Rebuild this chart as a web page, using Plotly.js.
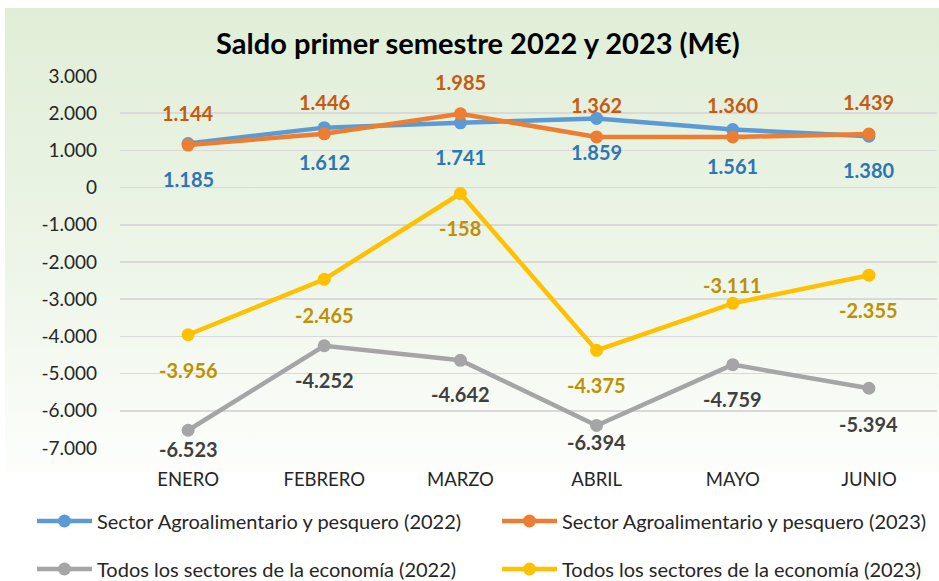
<!DOCTYPE html>
<html>
<head>
<meta charset="utf-8">
<script src="https://cdn.plot.ly/plotly-3.0.1.min.js"></script>
<style>
html,body{margin:0;padding:0;background:#fff;}
#wrap{position:relative;width:939px;height:581px;}
#bg{position:absolute;left:5px;top:8px;width:934px;height:464px;background:linear-gradient(to bottom,#e0eed7 0%,#edf5e8 55%,#fdfefc 100%);}
#chart{position:absolute;left:0;top:0;width:939px;height:581px;}
</style>
</head>
<body>
<div id="wrap"><div id="bg"></div><div id="chart"></div></div>
<script>
const months = ['ENERO','FEBRERO','MARZO','ABRIL','MAYO','JUNIO'];
const agro2022 = [1185, 1612, 1741, 1859, 1561, 1380];
const agro2023 = [1144, 1446, 1985, 1362, 1360, 1439];
const todos2022 = [-6523, -4252, -4642, -6394, -4759, -5394];
const todos2023 = [-3956, -2465, -158, -4375, -3111, -2355];
const yTicks = [3000, 2000, 1000, 0, -1000, -2000, -3000, -4000, -5000, -6000, -7000];
const names = ['Sector Agroalimentario y pesquero (2022)','Sector Agroalimentario y pesquero (2023)',
               'Todos los sectores de la economía (2022)','Todos los sectores de la economía (2023)'];

function fmt(v){
  const s = Math.abs(v).toString().replace(/\B(?=(\d{3})+(?!\d))/g,'.');
  return (v<0?'-':'') + s;
}

const FONT = 'Lato, "Open Sans", sans-serif';
const series = [
  {y: agro2022, name: names[0], line:'#5b9bd5', label:'#2e75b6', legend:'legend', shift:[-35,-34,-34,-34,-36,-34]},
  {y: agro2023, name: names[1], line:'#ed7d31', label:'#c55a11', legend:'legend2', shift:[32,32,32,32,32,32]},
  {y: todos2022, name: names[2], line:'#a5a5a5', label:'#404040', legend:'legend3', shift:[-19,-34,-34,-17,-34,-36]},
  {y: todos2023, name: names[3], line:'#ffc000', label:'#bf9000', legend:'legend4', shift:[-35,-36,-35,-35,18,-35]}
];

const traces = series.map(s => ({
  type:'scatter', mode:'lines+markers', x: months, y: s.y, name: s.name, legend: s.legend,
  line:{color:s.line, width:4.5}, marker:{color:s.line, size:13}, cliponaxis:false
}));

const annotations = [];
series.forEach(s => {
  s.y.forEach((v,i) => {
    annotations.push({x: months[i], y: v, xref:'x', yref:'y', text: fmt(v), showarrow:false,
      yshift: s.shift[i], font:{family:FONT, size:20, color:s.label, weight:'bold'}});
  });
});

function leg(x, yPix){
  return {orientation:'h', xref:'container', yref:'container', x:x/939, y:1-yPix/581, xanchor:'left', yanchor:'middle',
    font:{family:FONT, size:20, color:'#262626'}, bgcolor:'rgba(0,0,0,0)', itemwidth:55, borderwidth:0};
}

const layout = {
  width:939, height:581,
  paper_bgcolor:'rgba(0,0,0,0)', plot_bgcolor:'rgba(0,0,0,0)',
  margin:{l:120, r:2, t:76, b:133},
  title:{text:'<b>Saldo primer semestre 2022 y 2023 (M€)</b>', xref:'container', yref:'container', x:0.509, y:1-44/581,
    xanchor:'center', yanchor:'middle', font:{family:FONT, size:29, color:'#000'}},
  showlegend:true,
  xaxis:{type:'category', range:[-0.5,5.5], showgrid:false, zeroline:false, showline:false, ticks:'',
    ticklabelstandoff:18, tickfont:{family:FONT, size:18.5, color:'#262626'}, fixedrange:true},
  yaxis:{range:[-7000,3000], tickvals:yTicks, ticktext:yTicks.map(fmt), showgrid:true, gridcolor:'#d9d9d9', gridwidth:1.5,
    zeroline:false, showline:false, ticks:'', ticklabelstandoff:22, tickfont:{family:FONT, size:19, color:'#262626'}},
  legend: leg(32, 521),
  legend2: leg(497, 521),
  legend3: leg(32, 569),
  legend4: leg(497, 569),
  annotations: annotations
};

Plotly.newPlot('chart', traces, layout, {displayModeBar:false, staticPlot:true});
</script>
</body>
</html>
